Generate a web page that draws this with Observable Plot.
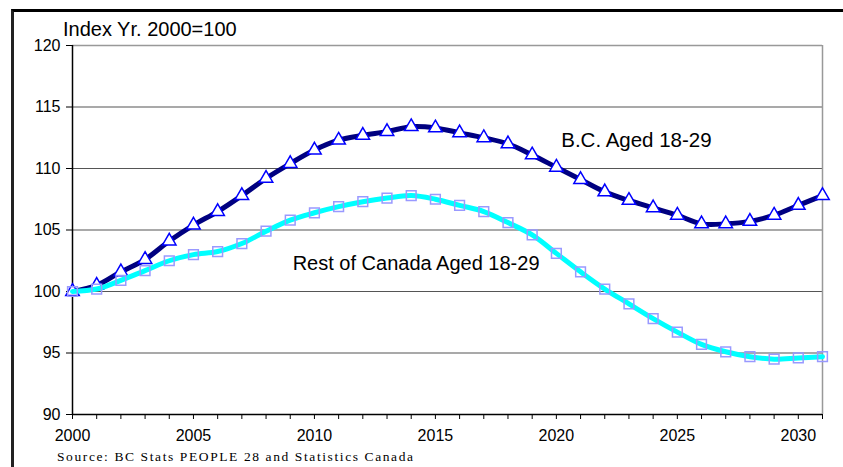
<!DOCTYPE html>
<html>
<head>
<meta charset="utf-8">
<script src="https://cdn.jsdelivr.net/npm/d3@7"></script>
<script src="https://cdn.jsdelivr.net/npm/@observablehq/plot@0.6"></script>
<style>
  html, body { margin: 0; padding: 0; background: #fff; }
  #wrap { position: relative; width: 843px; height: 467px; overflow: hidden; font-family: Arial, "Liberation Sans", sans-serif; }
  #wrap svg { position: absolute; left: 0; top: 0; }
  #border { position: absolute; left: 11px; top: 9px; width: 840px; height: 470px; border-top: 3px solid #000; border-left: 3px solid #222; }
  #title { position: absolute; left: 63px; top: 18px; font-size: 20px; color: #000; white-space: nowrap; }
  #source { position: absolute; left: 57px; top: 449px; font-family: "Liberation Serif", "Times New Roman", serif; font-size: 13.5px; letter-spacing: 1.6px; color: #000; white-space: nowrap; line-height: 16px; }
</style>
</head>
<body>
<div id="wrap">
  <div id="border"></div>
  <div id="title">Index Yr. 2000=100</div>
  <div id="source">Source: BC Stats PEOPLE 28 and Statistics Canada</div>
</div>
<script>
const years = [2000,2001,2002,2003,2004,2005,2006,2007,2008,2009,2010,2011,2012,2013,2014,2015,
               2016,2017,2018,2019,2020,2021,2022,2023,2024,2025,2026,2027,2028,2029,2030,2031];
const bcValues = [100.0,100.5,101.6,102.6,104.1,105.4,106.5,107.8,109.2,110.4,111.5,112.3,112.7,113.0,113.4,113.3,
                  112.9,112.5,112.0,111.1,110.1,109.1,108.1,107.4,106.8,106.2,105.5,105.5,105.7,106.2,107.0,107.8];
const rocValues = [100.0,100.2,100.9,101.7,102.5,103.0,103.25,103.9,104.9,105.8,106.4,106.9,107.3,107.6,107.8,107.5,
                   107.0,106.5,105.6,104.6,103.1,101.6,100.2,99.0,97.8,96.7,95.7,95.1,94.7,94.5,94.6,94.7];
const yTicks = [90,95,100,105,110,115,120];
const xLabelTicks = [2000,2005,2010,2015,2020,2025,2030];
const seriesLabels = ["B.C. Aged 18-29", "Rest of Canada Aged 18-29"];

const bc = years.map((y, i) => ({year: y, value: bcValues[i]}));
const roc = years.map((y, i) => ({year: y, value: rocValues[i]}));

const chart = Plot.plot({
  width: 843,
  height: 467,
  marginLeft: 72,
  marginRight: 21,
  marginTop: 45,
  marginBottom: 53,
  style: {fontFamily: "Arial, 'Liberation Sans', sans-serif", background: "transparent", overflow: "visible"},
  x: {domain: [2000, 2031]},
  y: {domain: [90, 120]},
  marks: [
    Plot.ruleY([95,100,105,110,115], {stroke: "#555", strokeWidth: 1.2}),
    Plot.ruleY([120], {stroke: "#999", strokeWidth: 1.5}),
    Plot.ruleX([2031], {stroke: "#999", strokeWidth: 1.5}),
    Plot.axisY({ticks: yTicks, tickSize: 6, tickPadding: 6, fontSize: 16, label: null, stroke: "#000", color: "#000"}),
    Plot.axisX({ticks: years, tickSize: 5, tickFormat: () => "", label: null, stroke: "#000"}),
    Plot.axisX({ticks: xLabelTicks, tickSize: 0, tickPadding: 15, tickFormat: d => String(d), fontSize: 16, label: null, color: "#000"}),
    Plot.ruleX([2000], {stroke: "#000", strokeWidth: 1.5}),
    Plot.ruleY([90], {stroke: "#000", strokeWidth: 1.5}),
    Plot.line(bc, {x: "year", y: "value", stroke: "#000080", strokeWidth: 5, curve: "catmull-rom"}),
    Plot.dot(bc, {x: "year", y: "value", symbol: "triangle", r: 5, stroke: "#0000ff", strokeWidth: 1.5, fill: "#fff"}),
    Plot.line(roc, {x: "year", y: "value", stroke: "#00ffff", strokeWidth: 5, curve: "catmull-rom"}),
    Plot.dot(roc, {x: "year", y: "value", symbol: "square", r: 5.5, stroke: "#9999ff", strokeWidth: 1.5, fill: "none"}),
    Plot.text([seriesLabels[0]], {x: 2020.2, y: 112.3, text: d => d, textAnchor: "start", fontSize: 20.5, fill: "#000"}),
    Plot.text([seriesLabels[1]], {x: 2009.1, y: 102.3, text: d => d, textAnchor: "start", fontSize: 20, fill: "#000"})
  ]
});
document.getElementById("wrap").insertBefore(chart, document.getElementById("border"));
</script>
</body>
</html>
